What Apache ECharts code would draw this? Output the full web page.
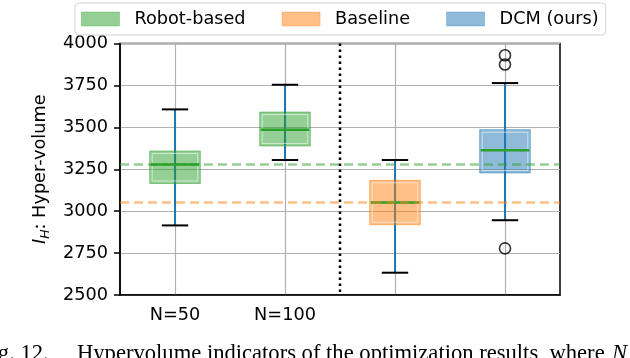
<!DOCTYPE html>
<html>
<head>
<meta charset="utf-8">
<script src="https://cdn.jsdelivr.net/npm/echarts@6/dist/echarts.min.js"></script>
<style>
  html, body { margin: 0; padding: 0; background: #fff; }
  #chart { width: 630px; height: 358px; }
</style>
</head>
<body>
<div id="chart"></div>
<script>
// categories on the x axis
var categories = ['N=50', 'N=100', '', '']
// box stats: [category index, min, Q1, median, Q3, max]
var robotBoxes = [
  [0, 2915, 3165, 3278, 3359, 3607],
  [1, 3305, 3389, 3486, 3591, 3754]
]
var baselineBoxes = [
  [2, 2633, 2919, 3052, 3184, 3305]
]
var dcmBoxes = [
  [3, 2946, 3228, 3363, 3486, 3764]
]
var dcmOutliers = [[3, 2778], [3, 3875], [3, 3930]]
// reference levels (dashed lines)
var robotLevel = 3278
var baselineLevel = 3052

var FONT = 'DejaVu Sans'
var FS = 17.7
var green = 'rgba(44,160,44,0.5)'
var orange = 'rgba(255,127,14,0.5)'
var blue = 'rgba(31,119,180,0.5)'

function boxRender(fill) {
  return function (params, api) {
    var x = api.value(0)
    var band = api.size([1, 0])[0]
    var bw = band * 0.46
    var cw = band * 0.24
    var pMin = api.coord([x, api.value(1)])
    var pQ1 = api.coord([x, api.value(2)])
    var pMed = api.coord([x, api.value(3)])
    var pQ3 = api.coord([x, api.value(4)])
    var pMax = api.coord([x, api.value(5)])
    var cx = pMin[0]
    return {
      type: 'group',
      children: [
        { type: 'line', shape: { x1: cx, y1: pMin[1], x2: cx, y2: pMax[1] },
          style: { stroke: '#1f77b4', lineWidth: 2 } },
        { type: 'rect', shape: { x: cx - bw / 2, y: pQ3[1], width: bw, height: pQ1[1] - pQ3[1] },
          style: { fill: fill, stroke: fill, lineWidth: 1 } },
        { type: 'rect', shape: { x: cx - bw / 2 + 2.5, y: pQ3[1] + 2.5, width: bw - 5, height: pQ1[1] - pQ3[1] - 5 },
          style: { fill: 'none', stroke: 'rgba(255,255,255,0.55)', lineWidth: 1 } },
        { type: 'line', shape: { x1: cx - cw / 2, y1: pMin[1], x2: cx + cw / 2, y2: pMin[1] },
          style: { stroke: '#000', lineWidth: 2 } },
        { type: 'line', shape: { x1: cx - cw / 2, y1: pMax[1], x2: cx + cw / 2, y2: pMax[1] },
          style: { stroke: '#000', lineWidth: 2 } },
        { type: 'line', shape: { x1: cx - bw / 2 + 1, y1: pMed[1], x2: cx + bw / 2 - 1, y2: pMed[1] },
          style: { stroke: '#2ca02c', lineWidth: 2.5 } }
      ]
    }
  }
}

var chart = echarts.init(document.getElementById('chart'))
var option = {
  animation: false,
  backgroundColor: '#fff',
  textStyle: { fontFamily: FONT },
  grid: {
    left: 120, right: 70, top: 43.5, bottom: 63,
    show: true, borderColor: '#000', borderWidth: 1.5, backgroundColor: 'transparent'
  },
  legend: {
    left: 75, top: 3,
    padding: [7, 7, 7, 6],
    backgroundColor: '#fff',
    borderColor: '#d4d4d4', borderWidth: 1, borderRadius: 4,
    icon: 'rect', itemWidth: 38, itemHeight: 14, itemGap: 36,
    textStyle: { fontFamily: FONT, fontSize: FS, color: '#000', padding: [0, 0, 0, 10] },
    data: [
      { name: 'Robot-based', itemStyle: { color: green, borderColor: 'rgba(44,160,44,0.3)', borderWidth: 1 } },
      { name: 'Baseline', itemStyle: { color: orange, borderColor: 'rgba(255,127,14,0.3)', borderWidth: 1 } },
      { name: 'DCM (ours)', itemStyle: { color: blue, borderColor: 'rgba(31,119,180,0.3)', borderWidth: 1 } }
    ]
  },
  xAxis: {
    type: 'category',
    data: categories,
    boundaryGap: true,
    axisLine: { lineStyle: { color: '#000', width: 1.5 } },
    axisTick: { alignWithLabel: true, length: 6, lineStyle: { color: '#000', width: 1.5 } },
    axisLabel: { fontFamily: FONT, fontSize: FS, color: '#000', margin: 11 },
    splitLine: { show: true, alignWithLabel: true, lineStyle: { color: '#b0b0b0', width: 1.2 } }
  },
  yAxis: {
    type: 'value',
    min: 2500, max: 4000, interval: 250,
    name: '{i|I}{s|H}{t|: Hyper-volume}',
    nameLocation: 'middle',
    nameGap: 68,
    nameTextStyle: {
      rich: {
        i: { fontFamily: FONT, fontStyle: 'italic', fontSize: FS, color: '#000', lineHeight: 24, verticalAlign: 'middle' },
        s: { fontFamily: FONT, fontStyle: 'italic', fontSize: 12.5, color: '#000', lineHeight: 24, verticalAlign: 'bottom' },
        t: { fontFamily: FONT, fontSize: FS, color: '#000', lineHeight: 24, verticalAlign: 'middle' }
      }
    },
    axisLine: { show: true, lineStyle: { color: '#000', width: 1.5 } },
    axisTick: { show: true, length: 6, lineStyle: { color: '#000', width: 1.5 } },
    axisLabel: {
      fontFamily: FONT, fontSize: FS, color: '#000', margin: 12,
      formatter: function (v) { return String(v) }
    },
    splitLine: { show: true, lineStyle: { color: '#b0b0b0', width: 1.2 } }
  },
  series: [
    {
      name: 'Robot-based', type: 'custom', data: robotBoxes,
      itemStyle: { color: green },
      encode: { x: 0, y: [1, 2, 3, 4, 5] },
      renderItem: boxRender(green), z: 3
    },
    {
      name: 'Baseline', type: 'custom', data: baselineBoxes,
      itemStyle: { color: orange },
      encode: { x: 0, y: [1, 2, 3, 4, 5] },
      renderItem: boxRender(orange), z: 3
    },
    {
      name: 'DCM (ours)', type: 'custom', data: dcmBoxes,
      itemStyle: { color: blue },
      encode: { x: 0, y: [1, 2, 3, 4, 5] },
      renderItem: boxRender(blue), z: 3
    },
    {
      name: 'outliers', type: 'scatter', data: dcmOutliers,
      symbol: 'circle', symbolSize: 11,
      itemStyle: { color: 'rgba(0,0,0,0)', borderColor: '#000', borderWidth: 1.6 },
      z: 4,
      markLine: {
        silent: true, symbol: 'none', animation: false,
        label: { show: false },
        data: [
          { yAxis: robotLevel, lineStyle: { color: 'rgba(44,160,44,0.5)', width: 2.5, type: [9, 5] } },
          { yAxis: baselineLevel, lineStyle: { color: 'rgba(255,127,14,0.5)', width: 2.5, type: [9, 5] } }
        ]
      }
    },
    {
      name: 'divider', type: 'custom', data: [[0]], z: 5,
      renderItem: function (params, api) {
        var a = api.coord([1, 4000])
        var b = api.coord([2, 2500])
        var x = (a[0] + b[0]) / 2
        return {
          type: 'line',
          shape: { x1: x, y1: a[1], x2: x, y2: b[1] },
          style: { stroke: '#000', lineWidth: 2.5, lineDash: [2.5, 3.5] }
        }
      }
    }
  ],
  graphic: [
    { type: 'text', left: -21, top: 343,
      style: { text: 'Fig. 12.', font: '22.6px "Liberation Serif"', fill: '#000' } },
    { type: 'text', left: 77, top: 343,
      style: { text: 'Hypervolume indicators of the optimization results, where ', font: '22.6px "Liberation Serif"', fill: '#000' } },
    { type: 'text', left: 612, top: 343,
      style: { text: 'N', font: 'italic 22.6px "Liberation Serif"', fill: '#000' } }
  ]
}
chart.setOption(option)
</script>
</body>
</html>
